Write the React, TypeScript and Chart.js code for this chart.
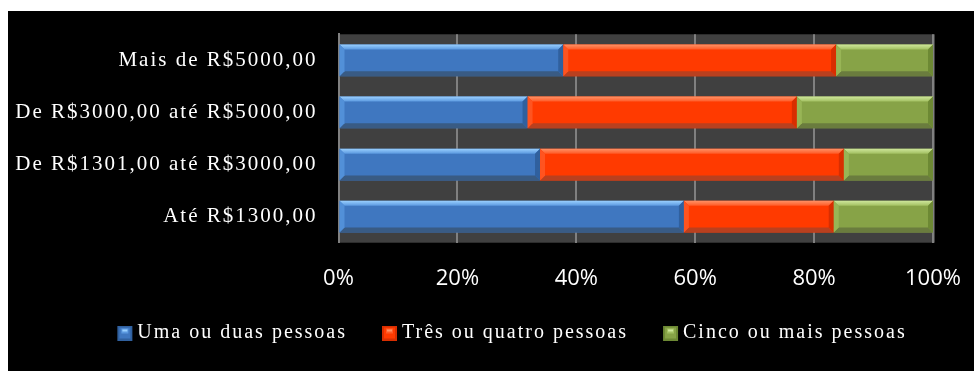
import React, { useEffect, useRef } from 'react';
import { Chart, registerables } from 'chart.js';

Chart.register(...registerables);

// ---------- data ----------
const categories = [
  'Mais de R$5000,00',
  'De R$3000,00 até R$5000,00',
  'De R$1301,00 até R$3000,00',
  'Até R$1300,00',
];
const seriesNames = ['Uma ou duas pessoas', 'Três ou quatro pessoas', 'Cinco ou mais pessoas'];
const umaOuDuas = [37.8, 31.8, 33.9, 58.1];
const tresOuQuatro = [45.9, 45.3, 51.1, 25.2];
const cincoOuMais = [16.3, 22.9, 15.0, 16.7];
const xTickValues = [0, 20, 40, 60, 80, 100];

// ---------- styles ----------
const palettes = [
  { face: '#3f77c0', top0: '#9ad0ff', top1: '#5b99e0', bottom: '#395b84', right: '#30609e', left: '#5290d8' },
  { face: '#ff3a00', top0: '#ff9266', top1: '#ff5a26', bottom: '#b9401f', right: '#d82e00', left: '#ff5420' },
  { face: '#87a347', top0: '#cfe79c', top1: '#a2c061', bottom: '#6a7c3e', right: '#6d8934', left: '#98b556' },
];

const LS = '2px';
const LEGEND_CENTER = 499;

function setLS(ctx: any, v: string) {
  if (ctx && 'letterSpacing' in ctx) ctx.letterSpacing = v;
}

function noAutoPadding(scale: any) {
  scale.paddingTop = 0;
  scale.paddingBottom = 0;
  scale.paddingLeft = 0;
  scale.paddingRight = 0;
}

function makeMarker(pal: any) {
  const c = document.createElement('canvas');
  c.width = 32;
  c.height = 15;
  const g = c.getContext('2d')!;
  const x0 = 16;
  g.fillStyle = pal.right;
  g.fillRect(x0, 0, 15, 15);
  g.fillStyle = pal.face;
  g.fillRect(x0 + 2, 2, 11, 11);
  g.fillStyle = pal.top1;
  g.fillRect(x0 + 4, 3, 7, 5);
  g.fillStyle = pal.top0;
  g.fillRect(x0 + 5, 4, 5, 2);
  return c;
}

function drawBevel(ctx: CanvasRenderingContext2D, l: number, t: number, r: number, b: number, pal: any) {
  const w = r - l;
  const h = b - t;
  if (w <= 1 || h <= 1) return;
  const e = Math.min(5, h / 4, w / 2);
  const poly = (pts: number[][], fill: any) => {
    ctx.fillStyle = fill;
    ctx.beginPath();
    ctx.moveTo(pts[0][0], pts[0][1]);
    for (let i = 1; i < pts.length; i++) ctx.lineTo(pts[i][0], pts[i][1]);
    ctx.closePath();
    ctx.fill();
  };
  const g = ctx.createLinearGradient(0, t, 0, t + e);
  g.addColorStop(0, pal.top0);
  g.addColorStop(1, pal.top1);
  poly([[l, t], [r, t], [r - e, t + e], [l + e, t + e]], g);
  poly([[l, b], [r, b], [r - e, b - e], [l + e, b - e]], pal.bottom);
  poly([[r, t], [r, b], [r - e, b - e], [r - e, t + e]], pal.right);
  poly([[l, t], [l + e, t + e], [l + e, b - e], [l, b]], pal.left);
}

const styler = {
  id: 'styler',
  beforeLayout(chart: any) {
    setLS(chart.ctx, LS);
  },
  afterLayout(chart: any) {
    setLS(chart.ctx, '0px');
    const lg = chart.legend;
    if (lg) {
      const dx = LEGEND_CENTER - (lg.left + lg.right) / 2;
      lg.left += dx;
      lg.right += dx;
    }
  },
  beforeDraw(chart: any) {
    const { ctx, chartArea } = chart;
    ctx.save();
    ctx.fillStyle = '#404040';
    ctx.fillRect(chartArea.left, chartArea.top, chartArea.right - chartArea.left + 2, chartArea.bottom - chartArea.top);
    ctx.restore();
    setLS(ctx, LS);
  },
  afterDatasetsDraw(chart: any) {
    const ctx = chart.ctx;
    ctx.save();
    chart.data.datasets.forEach((_d: any, i: number) => {
      const meta = chart.getDatasetMeta(i);
      meta.data.forEach((el: any) => {
        const p = el.getProps(['x', 'y', 'base', 'height'], true);
        const l = Math.min(p.x, p.base);
        const r = Math.max(p.x, p.base);
        const t = p.y - p.height / 2;
        const b = p.y + p.height / 2;
        drawBevel(ctx, l, t, r, b, palettes[i]);
      });
    });
    ctx.restore();
    setLS(ctx, '0px');
  },
  afterDraw(chart: any) {
    setLS(chart.ctx, '0px');
  },
};

export default function App() {
  const ref = useRef<HTMLCanvasElement | null>(null);

  useEffect(() => {
    if (!ref.current) return;
    const markers = palettes.map(makeMarker);
    const values = [umaOuDuas, tresOuQuatro, cincoOuMais];
    const chart = new Chart(ref.current, {
      type: 'bar',
      data: {
        labels: categories,
        datasets: values.map((v, i) => ({
          label: seriesNames[i],
          data: v,
          backgroundColor: palettes[i].face,
          borderWidth: 0,
          barPercentage: 0.61,
          categoryPercentage: 1,
        })),
      },
      options: {
        indexAxis: 'y',
        responsive: false,
        animation: false,
        events: [],
        layout: { padding: { left: 0, right: 41, top: 23.3, bottom: 0 } },
        plugins: {
          tooltip: { enabled: false },
          title: { display: false },
          legend: {
            position: 'bottom',
            labels: {
              usePointStyle: true,
              boxWidth: 20,
              padding: 25,
              color: '#ffffff',
              font: { family: "'Liberation Serif', 'Times New Roman', serif", size: 20 },
              generateLabels: () =>
                seriesNames.map((n, i) => ({
                  text: n,
                  fillStyle: palettes[i].face,
                  strokeStyle: palettes[i].face,
                  lineWidth: 0,
                  pointStyle: markers[i],
                  hidden: false,
                  datasetIndex: i,
                  fontColor: '#ffffff',
                })),
            },
          },
        },
        scales: {
          x: {
            stacked: true,
            min: 0,
            max: 100,
            afterBuildTicks: (scale: any) => {
              scale.ticks = xTickValues.map((v) => ({ value: v }));
            },
            afterFit: (scale: any) => {
              scale.height = 55.3;
              noAutoPadding(scale);
            },
            ticks: {
              z: 1,
              padding: 22.5,
              color: '#ffffff',
              maxRotation: 0,
              autoSkip: false,
              font: { family: "'Open Sans', sans-serif", size: 22 },
              callback: (v: any) => v + '%',
            },
            grid: { color: '#808080', lineWidth: 2, drawTicks: false },
            border: { display: false },
          },
          y: {
            stacked: true,
            afterFit: (scale: any) => {
              scale.width = 330.5;
              noAutoPadding(scale);
            },
            ticks: {
              padding: 21,
              color: '#ffffff',
              font: { family: "'Liberation Serif', 'Times New Roman', serif", size: 21 },
            },
            grid: { display: false, drawTicks: false },
            border: { display: true, color: '#808080', width: 2 },
          },
        },
      },
      plugins: [styler],
    } as any);
    return () => chart.destroy();
  }, []);

  return (
    <div
      style={{
        position: 'absolute',
        left: 8,
        top: 11,
        width: 966,
        height: 360,
        background: '#000000',
        overflow: 'hidden',
      }}
    >
      <canvas ref={ref} width={966} height={342} style={{ display: 'block', width: 966, height: 342 }} />
    </div>
  );
}
